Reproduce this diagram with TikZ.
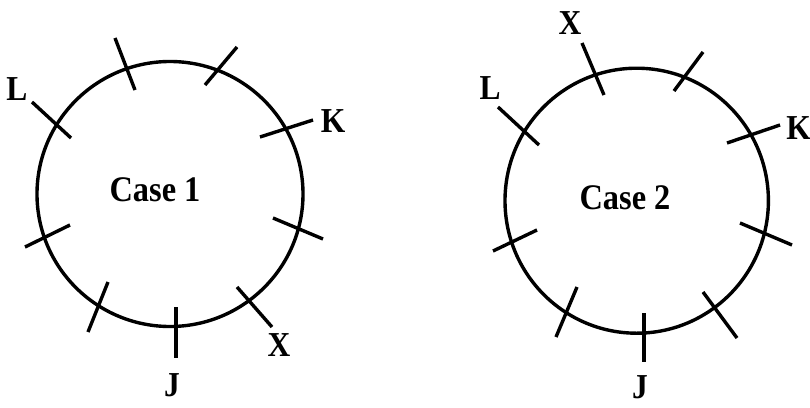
\documentclass[tikz,border=0pt]{standalone}
\usepackage{fontspec}
\setmainfont{Liberation Serif}[FakeStretch=0.9]
\begin{document}
\begin{tikzpicture}[x=1pt,y=-1pt,
  ring/.style={draw,line width=3.4pt},
  tick/.style={draw,line width=3.4pt},
  lbl/.style={font=\bfseries\fontsize{35}{37}\selectfont,inner sep=0pt},
  casetxt/.style={font=\bfseries\fontsize{36}{38}\selectfont,inner sep=0pt}]
\useasboundingbox (0,0) rectangle (810,407);
% Case 1
\draw[ring] (170,194) ellipse [x radius=133, y radius=132.5];
\node[casetxt] (case1) at (155,190) {Case 1};
\draw[tick] (115,38) -- (135,90);
\draw[tick] (237,47) -- (205,85);
\draw[tick] (313,120) -- (260,137);
\draw[tick] (273,218) -- (323,239);
\draw[tick] (237,287) -- (272,327);
\draw[tick] (176,307) -- (176,358);
\draw[tick] (108,282) -- (88,332);
\draw[tick] (70,225) -- (25,247);
\draw[tick] (32,102) -- (71,138);
\node[lbl] (L1) at (17,89) {L};
\node[lbl] (K1) at (333,121) {K};
\node[lbl] (X1) at (279,345) {X};
\node[lbl] (J1) at (172,385) {J};
% Case 2
\draw[ring] (636.7,200.7) ellipse [x radius=131.7, y radius=132.5];
\node[casetxt] (case2) at (625,198) {Case 2};
\draw[tick] (582,43) -- (604,95);
\draw[tick] (703,52) -- (674,91);
\draw[tick] (780,125) -- (727,143);
\draw[tick] (740,223) -- (792,245);
\draw[tick] (703,292) -- (737,338);
\draw[tick] (644,313) -- (644,362);
\draw[tick] (577,287) -- (556,337);
\draw[tick] (537,230) -- (493,251);
\draw[tick] (498,107) -- (539,145);
\node[lbl] (X2) at (570,23) {X};
\node[lbl] (L2) at (490,88) {L};
\node[lbl,anchor=east] (K2) at (811,128) {K};
\node[lbl] (J2) at (640,387) {J};
\end{tikzpicture}
\end{document}
